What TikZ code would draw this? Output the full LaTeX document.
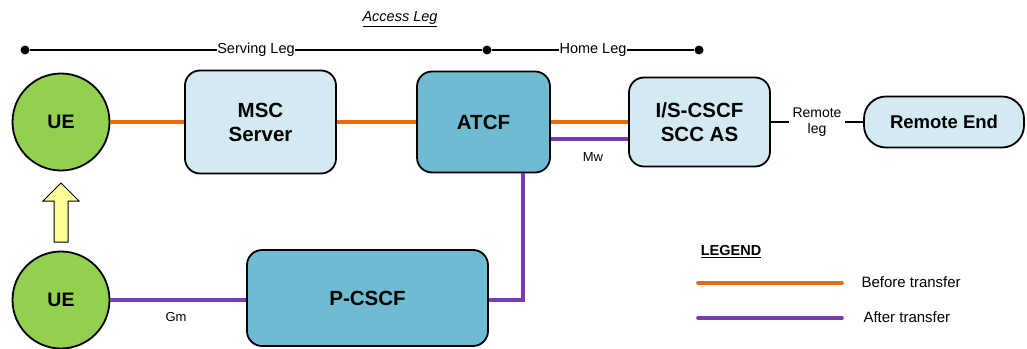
\documentclass[tikz,border=0pt]{standalone}
\usepackage{fontspec}
\setmainfont{Liberation Sans}
\usetikzlibrary{positioning}
\definecolor{uegreen}{HTML}{92D050}
\definecolor{lightbox}{HTML}{D3EAF2}
\definecolor{darkbox}{HTML}{6FBBD1}
\definecolor{orangeline}{HTML}{E46C0A}
\definecolor{purpleline}{HTML}{7B3AB0}
\definecolor{yellowarrow}{HTML}{FFFF99}
\tikzset{
  ue/.style={circle, draw=black, line width=1.8pt, fill=uegreen, minimum size=97pt, inner sep=0pt, font=\fontsize{19.5}{21}\selectfont\bfseries},
  lbox/.style={rectangle, rounded corners=15pt, draw=black, line width=1.8pt, fill=lightbox, inner sep=0pt, align=center, font=\fontsize{20.5}{24}\selectfont\bfseries},
  dbox/.style={lbox, fill=darkbox},
  before/.style={draw=orangeline, line width=3.6pt},
  after/.style={draw=purpleline, line width=3.6pt},
  legline/.style={line width=1.5pt},
  dotnode/.style={circle, fill=black, inner sep=0pt, minimum size=9pt},
  small/.style={font=\fontsize{14.5}{16}\selectfont},
  tiny/.style={font=\fontsize{13}{15}\selectfont},
}
\begin{document}
\begin{tikzpicture}[x=1pt, y=-1pt]
\useasboundingbox (0,0) rectangle (1027,348);

% top legs line
\node[font=\fontsize{14.5}{16}\selectfont\itshape] (access) at (400,19) {\underline{Access Leg}};
\node[dotnode] (d1) at (25,50) {};
\node[dotnode] (d2) at (487,50) {};
\node[dotnode] (d3) at (699,50) {};
\draw[legline] (d1) -- node[fill=white, inner sep=0.5pt, small] {Serving Leg} (d2);
\draw[legline] (d2) -- node[fill=white, inner sep=0.5pt, small] {Home Leg} (d3);

% nodes
\node[ue] (ue1) at (61,122) {UE};
\node[ue] (ue2) at (61,300) {UE};
\node[lbox, minimum width=151pt, minimum height=103pt] (msc) at (260.5,122) {MSC\\Server};
\node[dbox, minimum width=133pt, minimum height=101pt] (atcf) at (483.5,122) {ATCF};
\node[lbox, minimum width=141pt, minimum height=89pt] (iscscf) at (699.5,122) {I/S-CSCF\\SCC AS};
\node[lbox, rounded corners=22pt, minimum width=160pt, minimum height=51pt, font=\fontsize{18.5}{21}\selectfont\bfseries] (remote) at (944,122) {Remote End};
\node[dbox, minimum width=241pt, minimum height=96pt] (pcscf) at (367.5,298) {P-CSCF};

% yellow arrow
\draw[line width=1pt, fill=yellowarrow] (54,242) -- (54,201) -- (43,201) -- (61,183) -- (79,201) -- (68,201) -- (68,242) -- cycle;

% connectors
\draw[before] (ue1.east) -- (msc.west);
\draw[before] (msc.east) -- (atcf.west);
\draw[before] (atcf.east |- 0,122) -- (iscscf.west |- 0,122);
\draw[after] (atcf.east |- 0,139) -- (iscscf.west |- 0,139);
\node[tiny] (mw) at (593,157) {Mw};
\draw[after] (atcf.south -| 523,0) -- (523,300) -- (pcscf.east |- 0,300);
\draw[after] (ue2.east) -- (pcscf.west |- ue2.east);
\node[tiny] (gm) at (176,317) {Gm};

% remote leg
\node[align=center, font=\fontsize{14}{16}\selectfont] (rleg) at (817,122) {Remote\\leg};
\draw[legline] (iscscf.east) -- (rleg.west);
\draw[legline] (rleg.east) -- (remote.west);

% legend
\node[font=\fontsize{14.5}{16}\selectfont\bfseries] (legend) at (731,252) {\underline{LEGEND}};
\coordinate (lo1) at (698,283);
\coordinate (lo2) at (842,283);
\coordinate (lp1) at (698,318);
\coordinate (lp2) at (842,318);
\draw[before, line cap=round] (lo1) -- (lo2);
\draw[after, line cap=round] (lp1) -- (lp2);
\node[font=\fontsize{15}{17}\selectfont, anchor=west] (bt) at (858,282) {Before transfer};
\node[font=\fontsize{15}{17}\selectfont, anchor=west] (at) at (860,317) {After transfer};
\end{tikzpicture}
\end{document}
